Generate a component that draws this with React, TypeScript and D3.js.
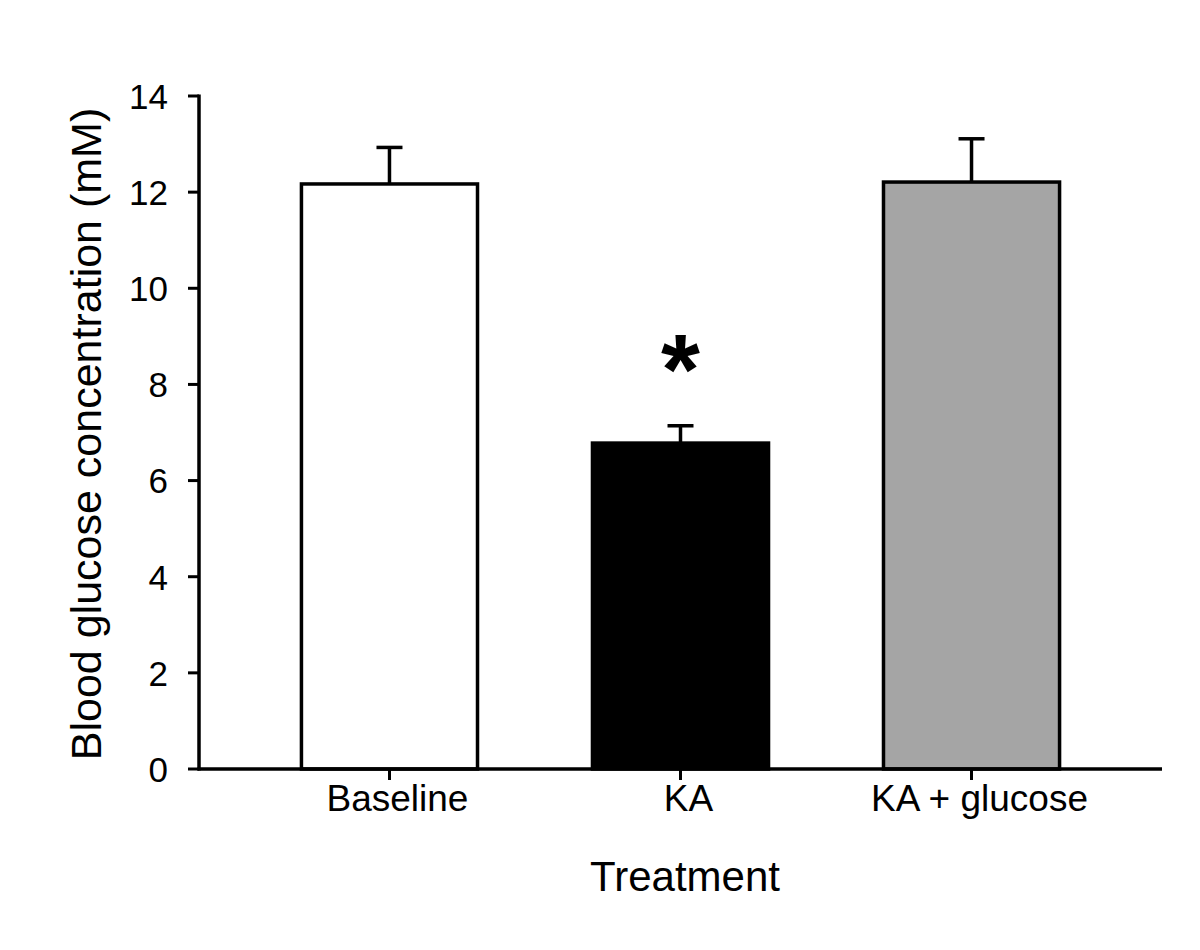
import React from "react";
import * as d3 from "d3";

const categories = ["Baseline", "KA", "KA + glucose"];
const means = [12.17, 6.78, 12.21];
const errUpper = [12.93, 7.14, 13.11];
const fills = ["#ffffff", "#000000", "#a5a5a5"];
const yTicks = [0, 2, 4, 6, 8, 10, 12, 14];
const significant = [false, true, false];

const W = 1200;
const H = 950;
const FONT = "'Liberation Sans', Arial, Helvetica, sans-serif";

export default function App() {
  const x = d3
    .scaleBand<string>()
    .domain(categories)
    .range([199, 1162])
    .paddingInner(0.395)
    .paddingOuter(0.352);
  const y = d3.scaleLinear().domain([0, 14]).range([769, 96]);
  const axisX0 = 199;
  const axisX1 = 1162;
  const y0 = y(0);
  const SW = 3.5;

  return (
    <svg
      width={W}
      height={H}
      style={{ position: "absolute", left: 0, top: 0, background: "#fff" }}
      fontFamily={FONT}
    >
      <rect x={0} y={0} width={W} height={H} fill="#fff" />
      {categories.map((c, i) => {
        const bx = x(c)!;
        const bw = x.bandwidth();
        const top = y(means[i]);
        const cx = bx + bw / 2;
        const ey = y(errUpper[i]);
        return (
          <g key={c}>
            <line x1={cx} x2={cx} y1={top} y2={ey} stroke="#000" strokeWidth={SW} />
            <line x1={cx - 13} x2={cx + 13} y1={ey} y2={ey} stroke="#000" strokeWidth={SW} />
            <rect
              x={bx}
              y={top}
              width={bw}
              height={y0 - top}
              fill={fills[i]}
              stroke="#000"
              strokeWidth={SW}
            />
            {significant[i] && (
              <text x={cx} y={ey} textAnchor="middle" fontSize={100} fontWeight="bold">
                <tspan x={cx} y={ey - 84} dy="0.62em">*</tspan>
              </text>
            )}
          </g>
        );
      })}
      <line x1={axisX0} x2={axisX0} y1={y(14) - 1.5} y2={y0 + 1.5} stroke="#000" strokeWidth={SW} />
      {yTicks.map((t) => (
        <g key={t}>
          <line x1={188} x2={axisX0} y1={y(t)} y2={y(t)} stroke="#000" strokeWidth={3} />
          <text x={168} y={y(t) + 12.8} textAnchor="end" fontSize={35}>
            {t}
          </text>
        </g>
      ))}
      <line x1={axisX0 - 1.5} x2={axisX1} y1={y0} y2={y0} stroke="#000" strokeWidth={SW} />
      {categories.map((c) => {
        const cx = x(c)! + x.bandwidth() / 2;
        return (
          <g key={c}>
            <line x1={cx} x2={cx} y1={y0} y2={y0 + 11} stroke="#000" strokeWidth={3} />
            <text x={cx + 8} y={811} textAnchor="middle" fontSize={37}>
              {c}
            </text>
          </g>
        );
      })}
      <text x={685} y={891} textAnchor="middle" fontSize={42}>
        Treatment
      </text>
      <text transform={`translate(101, 434) rotate(-90)`} textAnchor="middle" fontSize={43}>
        Blood glucose concentration (mM)
      </text>
    </svg>
  );
}
